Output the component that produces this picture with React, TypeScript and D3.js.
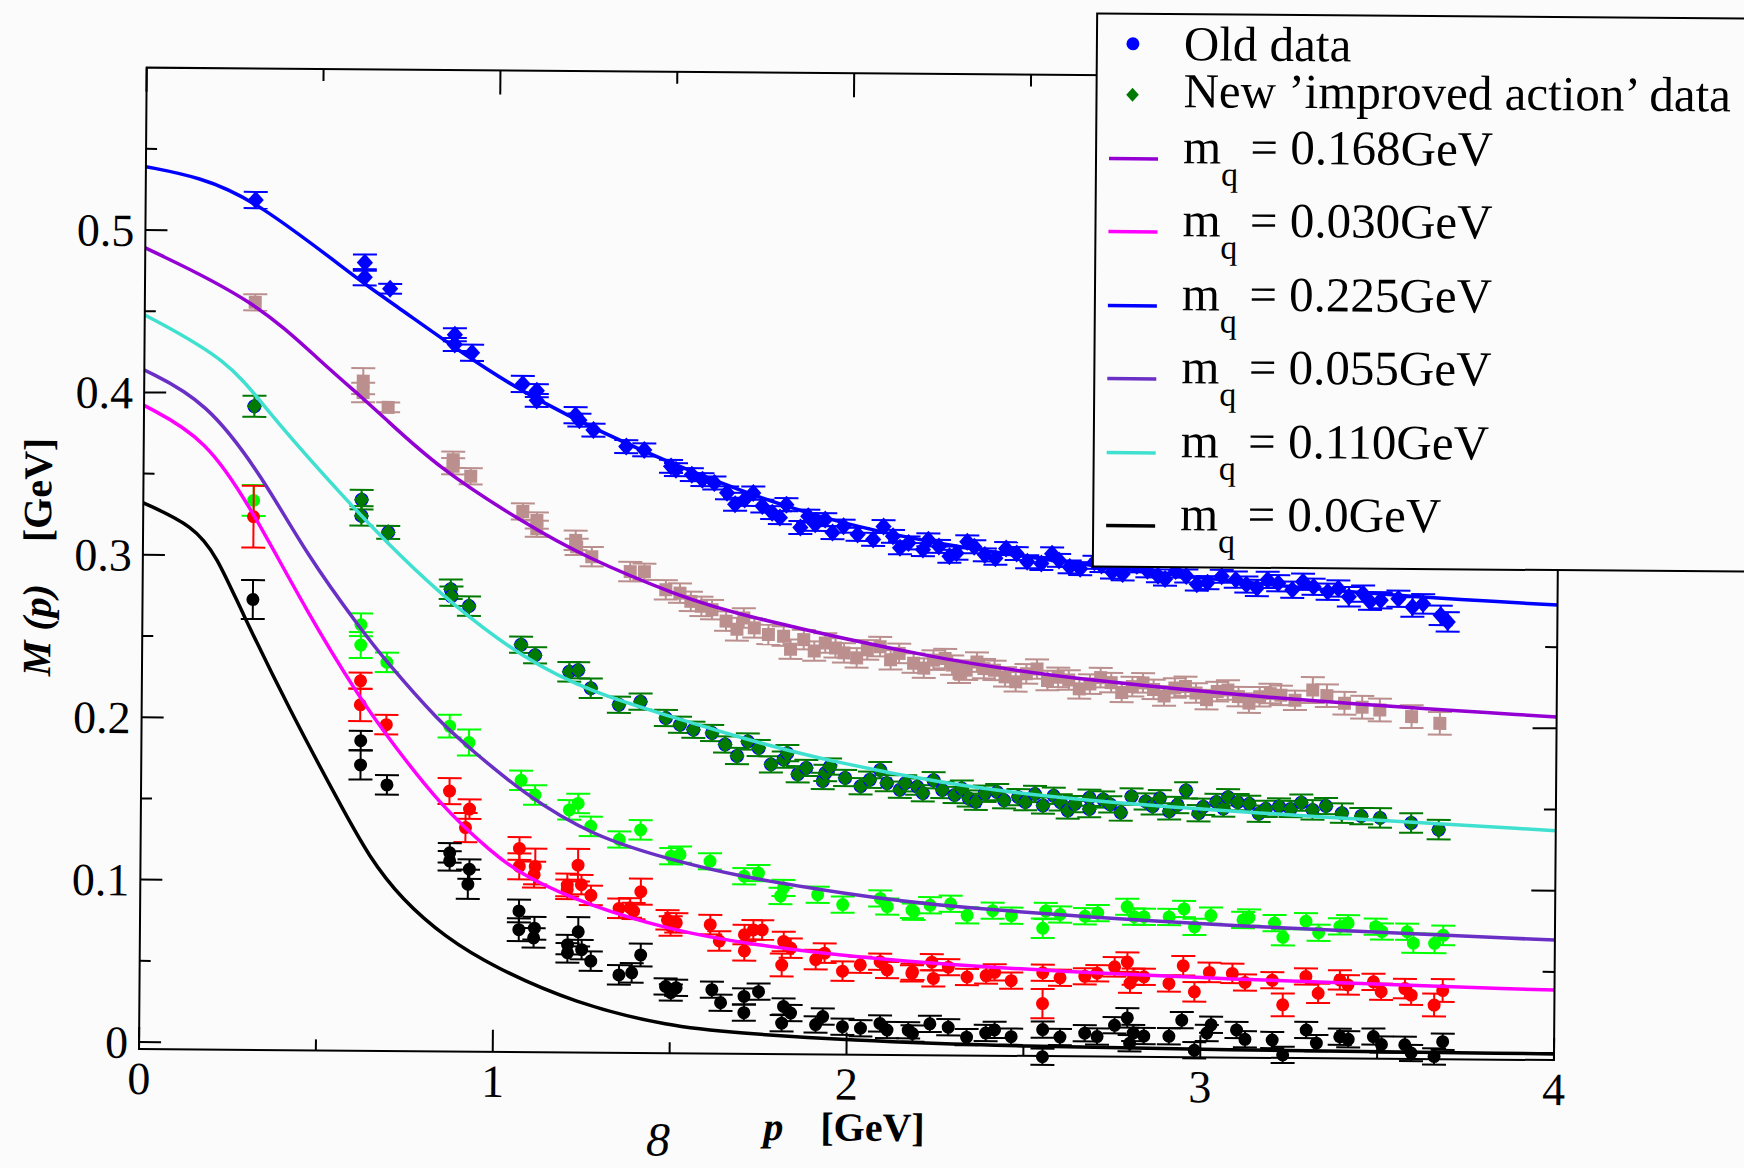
import * as d3 from 'd3'

const W = 1744
const H = 1168

const pTicks = [0, 1, 2, 3, 4]
const pMinor = [0.5, 1.5, 2.5, 3.5]
const mTicks = [0, 0.1, 0.2, 0.3, 0.4, 0.5]
const mMinor = [0.05, 0.15, 0.25, 0.35, 0.45, 0.55]

type Pt = [number, number, number] // p, M, error

// m_q = 0.225 (blue diamonds)
const data225: Pt[] = [
  [0.311, 0.519, 0.005], [0.621, 0.481, 0.005], [0.621, 0.472, 0.005], [0.693, 0.465, 0.003],
  [0.877, 0.437, 0.004], [0.877, 0.431, 0.004], [0.926, 0.426, 0.005],
  [1.07, 0.407, 0.005], [1.11, 0.403, 0.004], [1.11, 0.397, 0.004],
  [1.22, 0.388, 0.005], [1.231, 0.385, 0.004], [1.271, 0.379, 0.004],
  [1.364, 0.369, 0.004], [1.415, 0.367, 0.004], [1.491, 0.357, 0.004], [1.505, 0.355, 0.004],
  [1.55, 0.352, 0.004], [1.58, 0.349, 0.004], [1.614, 0.347, 0.004], [1.65, 0.341, 0.004],
  [1.673, 0.334, 0.004], [1.7, 0.337, 0.004], [1.724, 0.341, 0.004], [1.75, 0.333, 0.004],
  [1.778, 0.329, 0.004], [1.8, 0.326, 0.004], [1.818, 0.334, 0.004], [1.858, 0.32, 0.004],
  [1.88, 0.327, 0.004], [1.9, 0.322, 0.004], [1.928, 0.325, 0.004], [1.949, 0.317, 0.004],
  [1.98, 0.321, 0.004], [2.02, 0.316, 0.004], [2.064, 0.313, 0.004], [2.093, 0.321, 0.004],
  [2.12, 0.315, 0.004], [2.14, 0.308, 0.004], [2.164, 0.311, 0.004], [2.205, 0.307, 0.004],
  [2.22, 0.313, 0.004], [2.25, 0.309, 0.004], [2.28, 0.303, 0.004], [2.3, 0.305, 0.004],
  [2.33, 0.312, 0.004], [2.35, 0.309, 0.004], [2.38, 0.304, 0.004], [2.41, 0.302, 0.004],
  [2.44, 0.308, 0.004], [2.47, 0.305, 0.004], [2.5, 0.3, 0.004], [2.54, 0.299, 0.004],
  [2.57, 0.305, 0.004], [2.59, 0.301, 0.004], [2.62, 0.297, 0.004], [2.65, 0.296, 0.004],
  [2.69, 0.3, 0.004], [2.71, 0.298, 0.004], [2.74, 0.294, 0.004], [2.77, 0.293, 0.004],
  [2.81, 0.298, 0.004], [2.84, 0.295, 0.004], [2.87, 0.292, 0.004], [2.89, 0.29, 0.004],
  [2.92, 0.295, 0.004], [2.95, 0.292, 0.004], [2.98, 0.287, 0.004], [3.01, 0.288, 0.004],
  [3.05, 0.292, 0.004], [3.09, 0.29, 0.005], [3.12, 0.287, 0.005], [3.15, 0.285, 0.005],
  [3.18, 0.29, 0.005], [3.21, 0.288, 0.005], [3.25, 0.284, 0.005], [3.28, 0.289, 0.005],
  [3.31, 0.286, 0.005], [3.35, 0.283, 0.005], [3.38, 0.285, 0.005], [3.41, 0.28, 0.006],
  [3.45, 0.282, 0.005], [3.47, 0.277, 0.005], [3.5, 0.278, 0.005], [3.55, 0.279, 0.005],
  [3.59, 0.274, 0.006], [3.62, 0.276, 0.006], [3.67, 0.269, 0.006], [3.69, 0.265, 0.006],
]

// m_q = 0.168 (rosy brown squares)
const data168: Pt[] = [
  [0.312, 0.456, 0.005], [0.619, 0.408, 0.008], [0.619, 0.401, 0.006], [0.69, 0.392, 0.003],
  [0.875, 0.36, 0.005], [0.875, 0.356, 0.005], [0.925, 0.35, 0.005],
  [1.073, 0.3285, 0.005], [1.113, 0.323, 0.005], [1.113, 0.318, 0.005],
  [1.223, 0.311, 0.006], [1.226, 0.307, 0.005], [1.269, 0.301, 0.006],
  [1.378, 0.292, 0.006], [1.418, 0.292, 0.005], [1.479, 0.281, 0.006], [1.519, 0.279, 0.006],
  [1.55, 0.274, 0.006], [1.58, 0.271, 0.006], [1.61, 0.269, 0.006], [1.65, 0.262, 0.006],
  [1.681, 0.257, 0.007], [1.7, 0.264, 0.006], [1.73, 0.258, 0.006], [1.77, 0.254, 0.006],
  [1.813, 0.253, 0.006], [1.833, 0.245, 0.006], [1.87, 0.251, 0.006], [1.9, 0.244, 0.006],
  [1.931, 0.249, 0.006], [1.96, 0.246, 0.006], [1.984, 0.243, 0.006], [2.02, 0.24, 0.006],
  [2.05, 0.245, 0.006], [2.086, 0.247, 0.006], [2.116, 0.239, 0.006], [2.14, 0.243, 0.006],
  [2.181, 0.237, 0.006], [2.21, 0.234, 0.006], [2.237, 0.239, 0.006], [2.27, 0.24, 0.006],
  [2.29, 0.236, 0.006], [2.31, 0.231, 0.006], [2.33, 0.233, 0.006], [2.36, 0.238, 0.006],
  [2.38, 0.234, 0.006], [2.41, 0.233, 0.006], [2.44, 0.229, 0.006], [2.47, 0.226, 0.006],
  [2.5, 0.231, 0.006], [2.53, 0.234, 0.006], [2.56, 0.227, 0.006], [2.59, 0.229, 0.006],
  [2.62, 0.2274, 0.006], [2.65, 0.222, 0.006], [2.68, 0.225, 0.006], [2.71, 0.229, 0.006],
  [2.74, 0.226, 0.006], [2.77, 0.22, 0.006], [2.8, 0.2236, 0.006], [2.83, 0.226, 0.006],
  [2.86, 0.222, 0.006], [2.89, 0.218, 0.006], [2.92, 0.223, 0.006], [2.95, 0.224, 0.006],
  [2.98, 0.22, 0.006], [3.01, 0.216, 0.006], [3.04, 0.221, 0.006], [3.07, 0.222, 0.006],
  [3.1, 0.218, 0.006], [3.13, 0.214, 0.006], [3.16, 0.218, 0.006], [3.19, 0.22, 0.006],
  [3.22, 0.219, 0.006], [3.26, 0.216, 0.006], [3.31, 0.2224, 0.008], [3.35, 0.219, 0.007],
  [3.4, 0.2144, 0.007], [3.45, 0.212, 0.007], [3.5, 0.2104, 0.007], [3.59, 0.2065, 0.007],
  [3.67, 0.2025, 0.007],
]

// m_q = 0.110 (old blue circles under new dark green points)
const data110: Pt[] = [
  [0.312, 0.392, 0.0065], [0.617, 0.335, 0.006], [0.617, 0.325, 0.006], [0.693, 0.315, 0.004],
  [0.871, 0.2803, 0.006], [0.873, 0.276, 0.006], [0.923, 0.27, 0.006],
  [1.071, 0.2465, 0.005], [1.111, 0.24, 0.005], [1.208, 0.23, 0.006], [1.233, 0.231, 0.005],
  [1.269, 0.22, 0.006], [1.349, 0.21, 0.005], [1.41, 0.212, 0.005], [1.482, 0.202, 0.005],
  [1.522, 0.198, 0.005], [1.56, 0.195, 0.005], [1.613, 0.193, 0.005], [1.65, 0.186, 0.005],
  [1.684, 0.179, 0.005], [1.714, 0.188, 0.005], [1.745, 0.184, 0.005], [1.78, 0.174, 0.005],
  [1.816, 0.177, 0.005], [1.826, 0.181, 0.005], [1.856, 0.168, 0.005], [1.88, 0.172, 0.005],
  [1.927, 0.164, 0.005], [1.934, 0.169, 0.005], [1.947, 0.173, 0.005], [1.99, 0.166, 0.005],
  [2.034, 0.161, 0.005], [2.06, 0.165, 0.005], [2.089, 0.171, 0.005], [2.108, 0.163, 0.005],
  [2.145, 0.159, 0.005], [2.16, 0.163, 0.005], [2.194, 0.161, 0.005], [2.21, 0.157, 0.005],
  [2.24, 0.165, 0.005], [2.265, 0.159, 0.005], [2.3, 0.156, 0.005], [2.32, 0.16, 0.005],
  [2.34, 0.154, 0.005], [2.36, 0.152, 0.005], [2.385, 0.157, 0.005], [2.42, 0.158, 0.005],
  [2.44, 0.153, 0.005], [2.48, 0.155, 0.005], [2.5, 0.152, 0.005], [2.527, 0.157, 0.005],
  [2.55, 0.15, 0.005], [2.58, 0.156, 0.005], [2.6, 0.152, 0.005], [2.62, 0.147, 0.005],
  [2.64, 0.151, 0.005], [2.681, 0.148, 0.005], [2.681, 0.155, 0.005], [2.72, 0.154, 0.005],
  [2.74, 0.151, 0.005], [2.77, 0.146, 0.005], [2.8, 0.156, 0.005], [2.84, 0.153, 0.005],
  [2.86, 0.15, 0.005], [2.88, 0.155, 0.005], [2.907, 0.147, 0.005], [2.93, 0.151, 0.005],
  [2.954, 0.16, 0.005], [2.99, 0.146, 0.005], [3.003, 0.15, 0.005], [3.04, 0.153, 0.005],
  [3.06, 0.149, 0.005], [3.073, 0.156, 0.005], [3.1, 0.153, 0.005], [3.133, 0.152, 0.005],
  [3.16, 0.146, 0.005], [3.18, 0.149, 0.005], [3.217, 0.1505, 0.005], [3.25, 0.149, 0.005],
  [3.28, 0.153, 0.005], [3.312, 0.1486, 0.006], [3.35, 0.151, 0.005], [3.395, 0.1467, 0.006],
  [3.45, 0.145, 0.005], [3.503, 0.144, 0.006], [3.591, 0.141, 0.006], [3.669, 0.137, 0.006],
]

// m_q = 0.055 (bright green circles)
const data055: Pt[] = [
  [0.312, 0.334, 0.0095], [0.618, 0.258, 0.007], [0.618, 0.2455, 0.008], [0.692, 0.235, 0.006],
  [0.871, 0.196, 0.007], [0.926, 0.186, 0.008], [1.074, 0.163, 0.006], [1.114, 0.154, 0.006],
  [1.211, 0.145, 0.006], [1.236, 0.149, 0.006], [1.272, 0.135, 0.006], [1.353, 0.127, 0.005],
  [1.413, 0.133, 0.006], [1.5, 0.117, 0.005], [1.525, 0.118, 0.005], [1.61, 0.114, 0.005],
  [1.707, 0.105, 0.005], [1.747, 0.107, 0.005], [1.81, 0.093, 0.005], [1.818, 0.098, 0.005],
  [1.915, 0.094, 0.005], [1.986, 0.088, 0.005], [2.092, 0.092, 0.005], [2.112, 0.087, 0.005],
  [2.182, 0.085, 0.005], [2.187, 0.084, 0.005], [2.233, 0.088, 0.005], [2.291, 0.089, 0.005],
  [2.338, 0.082, 0.005], [2.41, 0.085, 0.005], [2.463, 0.082, 0.005], [2.552, 0.0744, 0.006],
  [2.56, 0.085, 0.005], [2.601, 0.083, 0.005], [2.671, 0.082, 0.005], [2.707, 0.084, 0.005],
  [2.79, 0.088, 0.005], [2.81, 0.082, 0.005], [2.838, 0.082, 0.005], [2.909, 0.082, 0.005],
  [2.951, 0.087, 0.005], [2.981, 0.076, 0.005], [3.027, 0.083, 0.005], [3.118, 0.0805, 0.005],
  [3.135, 0.082, 0.005], [3.207, 0.0787, 0.005], [3.231, 0.07, 0.005], [3.296, 0.08, 0.005],
  [3.332, 0.073, 0.005], [3.392, 0.077, 0.005], [3.415, 0.079, 0.005], [3.493, 0.077, 0.005],
  [3.511, 0.074, 0.005], [3.582, 0.074, 0.005], [3.6, 0.067, 0.006], [3.66, 0.067, 0.006],
  [3.684, 0.072, 0.006],
]

// m_q = 0.030 (red circles)
const data030: Pt[] = [
  [0.312, 0.324, 0.019], [0.618, 0.2235, 0.005], [0.618, 0.2087, 0.01], [0.692, 0.1966, 0.006],
  [0.872, 0.156, 0.008], [0.918, 0.1336, 0.009], [0.929, 0.145, 0.006],
  [1.071, 0.121, 0.007], [1.071, 0.11, 0.008], [1.113, 0.105, 0.008], [1.116, 0.11, 0.011],
  [1.207, 0.0987, 0.007], [1.207, 0.096, 0.006], [1.237, 0.111, 0.01], [1.247, 0.099, 0.006],
  [1.274, 0.0925, 0.006], [1.354, 0.0846, 0.006], [1.385, 0.085, 0.006], [1.395, 0.083, 0.005],
  [1.415, 0.095, 0.008], [1.491, 0.0777, 0.006], [1.5, 0.074, 0.006], [1.516, 0.076, 0.006],
  [1.612, 0.075, 0.006], [1.638, 0.065, 0.006], [1.709, 0.069, 0.006], [1.709, 0.059, 0.006],
  [1.734, 0.072, 0.006], [1.759, 0.072, 0.006], [1.815, 0.0505, 0.007], [1.82, 0.065, 0.006],
  [1.84, 0.061, 0.006], [1.911, 0.054, 0.006], [1.936, 0.058, 0.006], [1.987, 0.047, 0.006],
  [2.037, 0.051, 0.005], [2.093, 0.053, 0.005], [2.113, 0.048, 0.005], [2.183, 0.046, 0.005],
  [2.185, 0.047, 0.005], [2.239, 0.053, 0.005], [2.244, 0.043, 0.005], [2.286, 0.05, 0.005],
  [2.339, 0.044, 0.005], [2.393, 0.045, 0.005], [2.417, 0.047, 0.005], [2.464, 0.042, 0.005],
  [2.553, 0.047, 0.005], [2.553, 0.028, 0.009], [2.602, 0.044, 0.005], [2.672, 0.045, 0.005],
  [2.707, 0.047, 0.005], [2.756, 0.051, 0.006], [2.792, 0.054, 0.006], [2.8, 0.041, 0.006],
  [2.81, 0.045, 0.005], [2.839, 0.045, 0.005], [2.91, 0.041, 0.005], [2.95, 0.052, 0.006],
  [2.982, 0.036, 0.006], [3.024, 0.048, 0.006], [3.089, 0.0475, 0.006], [3.125, 0.042, 0.005],
  [3.202, 0.0435, 0.005], [3.232, 0.0284, 0.007], [3.297, 0.046, 0.005], [3.332, 0.0357, 0.006],
  [3.393, 0.044, 0.006], [3.416, 0.041, 0.006], [3.488, 0.043, 0.005], [3.51, 0.037, 0.005],
  [3.577, 0.039, 0.006], [3.595, 0.035, 0.006], [3.66, 0.029, 0.007], [3.684, 0.038, 0.007],
]

// m_q = 0.0 (black circles)
const data000: Pt[] = [
  [0.312, 0.273, 0.012], [0.62, 0.1866, 0.006], [0.62, 0.1717, 0.009], [0.695, 0.1595, 0.006],
  [0.874, 0.118, 0.006], [0.874, 0.113, 0.006], [0.926, 0.0987, 0.009], [0.93, 0.108, 0.006],
  [1.071, 0.0825, 0.007], [1.071, 0.071, 0.007], [1.113, 0.066, 0.006], [1.115, 0.072, 0.007],
  [1.209, 0.062, 0.006], [1.209, 0.057, 0.006], [1.239, 0.07, 0.009], [1.249, 0.059, 0.006],
  [1.275, 0.052, 0.006], [1.355, 0.0436, 0.006], [1.391, 0.045, 0.006], [1.416, 0.056, 0.007],
  [1.487, 0.0367, 0.005], [1.502, 0.033, 0.005], [1.517, 0.036, 0.005], [1.618, 0.035, 0.005],
  [1.643, 0.027, 0.005], [1.709, 0.031, 0.005], [1.709, 0.021, 0.005], [1.75, 0.034, 0.005],
  [1.816, 0.0147, 0.005], [1.821, 0.025, 0.005], [1.841, 0.021, 0.005], [1.912, 0.014, 0.005],
  [1.932, 0.019, 0.005], [1.988, 0.0128, 0.005], [2.039, 0.012, 0.005], [2.094, 0.015, 0.005],
  [2.114, 0.011, 0.005], [2.174, 0.011, 0.005], [2.186, 0.009, 0.005], [2.235, 0.015, 0.005],
  [2.287, 0.013, 0.005], [2.339, 0.007, 0.005], [2.393, 0.0096, 0.005], [2.418, 0.0116, 0.005],
  [2.465, 0.0075, 0.005], [2.554, 0.012, 0.005], [2.554, -0.0047, 0.005], [2.603, 0.0075, 0.005],
  [2.673, 0.01, 0.005], [2.708, 0.008, 0.005], [2.757, 0.015, 0.005], [2.793, 0.0196, 0.006],
  [2.8, 0.004, 0.005], [2.81, 0.0103, 0.005], [2.84, 0.0085, 0.005], [2.911, 0.0085, 0.005],
  [2.947, 0.0185, 0.005], [2.983, 0.0, 0.005], [3.018, 0.0107, 0.005], [3.03, 0.0158, 0.005],
  [3.102, 0.0127, 0.005], [3.126, 0.007, 0.005], [3.203, 0.0067, 0.005], [3.233, -0.0024, 0.005],
  [3.299, 0.013, 0.005], [3.328, 0.005, 0.005], [3.394, 0.009, 0.005], [3.418, 0.0075, 0.005],
  [3.489, 0.0093, 0.005], [3.512, 0.0045, 0.005], [3.578, 0.0044, 0.005], [3.596, -0.0006, 0.005],
  [3.661, -0.0027, 0.005], [3.685, 0.0065, 0.005],
]

// fit curves
const fit225: [number, number][] = [
  [0, 0.539], [0.15, 0.533], [0.311, 0.519], [0.618, 0.468], [0.694, 0.457], [0.89, 0.427],
  [1.086, 0.399], [1.476, 0.359], [1.881, 0.327], [2.254, 0.309], [2.99, 0.29], [3.59, 0.28], [4, 0.276],
]
const fit168: [number, number][] = [
  [0, 0.489], [0.314, 0.457], [0.497, 0.42], [0.621, 0.397], [0.667, 0.388], [0.838, 0.354],
  [1.073, 0.322], [1.246, 0.301], [1.519, 0.277], [1.68, 0.266], [2.256, 0.239], [2.652, 0.2275],
  [3.312, 0.215], [4, 0.207],
]
const fit110: [number, number][] = [
  [0, 0.4477], [0.242, 0.42], [0.347, 0.389], [0.593, 0.33], [0.73, 0.3], [0.87, 0.272],
  [1.076, 0.238], [1.278, 0.217], [1.48, 0.204], [1.683, 0.191], [1.887, 0.179], [2.259, 0.163],
  [2.654, 0.153], [3.315, 0.1444], [4, 0.137],
]
const fit055: [number, number][] = [
  [0, 0.4138], [0.177, 0.395], [0.338, 0.348], [0.463, 0.301], [0.616, 0.2557], [0.692, 0.235],
  [0.844, 0.198], [0.926, 0.183], [1.079, 0.155], [1.281, 0.1286], [1.496, 0.115], [1.686, 0.105],
  [1.987, 0.095], [2.262, 0.087], [3.097, 0.0763], [4, 0.0696],
]
const fit030: [number, number][] = [
  [0, 0.392], [0.177, 0.372], [0.311, 0.327], [0.464, 0.266], [0.617, 0.2126], [0.693, 0.19],
  [0.846, 0.147], [0.996, 0.118], [1.081, 0.104], [1.283, 0.085], [1.497, 0.072], [1.688, 0.064],
  [2.148, 0.052], [3.098, 0.0435], [4, 0.0388],
]
const fit000: [number, number][] = [
  [0, 0.332], [0.144, 0.318], [0.21, 0.299], [0.275, 0.268], [0.42, 0.2044], [0.564, 0.147],
  [0.646, 0.115], [0.74, 0.089], [0.863, 0.066], [1.0, 0.048], [1.23, 0.026], [1.5, 0.012],
  [1.69, 0.0085], [1.99, 0.0046], [2.5, 0.0015], [3.0, 0.0005], [4, -0.0005],
]

const fitMasses = ['0.168', '0.030', '0.225', '0.055', '0.110', '0.0']
const fitColors = ['#9400d3', '#ff00ff', '#0000ff', '#6a2fc4', '#40e0d0', '#000000']
const fitCurves = [fit168, fit030, fit225, fit055, fit110, fit000]

const FONT = "'Liberation Serif', 'DejaVu Serif', serif"

function ErrBar({ cx, y0, y1, color }: { cx: number; y0: number; y1: number; color: string }) {
  return (
    <g stroke={color} strokeWidth={2}>
      <line x1={cx} x2={cx} y1={y0} y2={y1} />
      <line x1={cx - 12} x2={cx + 12} y1={y0} y2={y0} />
      <line x1={cx - 12} x2={cx + 12} y1={y1} y2={y1} />
    </g>
  )
}

export default function App() {
  const x = d3.scaleLinear().domain([0, 4]).range([139, 1554])
  const y = d3.scaleLinear().domain([0, 0.5]).range([1042, 230])
  const top = y(0.6)
  const bottom = y(-0.0043)
  const left = x(0)
  const right = x(4)

  const line = d3
    .line<[number, number]>()
    .x((d) => x(d[0]))
    .y((d) => y(d[1]))
    .curve(d3.curveBasis)

  const diamond = (r: number) => `M0,${-r}L${r * 0.9},0L0,${r}L${-r * 0.9},0Z`

  const series = (pts: Pt[], color: string, marker: (cx: number, cy: number, i: number) => JSX.Element, key: string) => (
    <g key={key}>
      {pts.map((d, i) => (
        <g key={i}>
          <ErrBar cx={x(d[0])} y0={y(d[1] - d[2])} y1={y(d[1] + d[2])} color={color} />
          {marker(x(d[0]), y(d[1]), i)}
        </g>
      ))}
    </g>
  )

  const legendBase = [155, 228, 302, 375, 449, 522]

  return (
    <svg
      width={W}
      height={H}
      style={{ position: 'absolute', left: 0, top: 0, background: '#fbfbfb' }}
      fontFamily={FONT}
    >
      <rect width={W} height={H} fill="#fbfbfb" />
      <g transform="rotate(0.45 139 1049)">
        {/* data */}
        {series(data225, '#0000ff', (cx, cy, i) => (
          <path key={i} d={diamond(9)} transform={`translate(${cx},${cy})`} fill="#0000ff" />
        ), 's225')}
        {series(data168, '#bc8f8f', (cx, cy, i) => (
          <rect key={i} x={cx - 6.5} y={cy - 6.5} width={13} height={13} fill="#bc8f8f" />
        ), 's168')}
        {series(data110, '#007a00', (cx, cy, i) => (
          <g key={i}>
            <circle cx={cx} cy={cy} r={7} fill="#0000ff" />
            <path d={diamond(8.5)} transform={`translate(${cx},${cy})`} fill="#007a00" />
            <circle cx={cx} cy={cy} r={5} fill="#007a00" />
          </g>
        ), 's110')}
        {series(data055, '#00ff00', (cx, cy, i) => (
          <circle key={i} cx={cx} cy={cy} r={6.5} fill="#00ff00" />
        ), 's055')}
        {series(data030, '#ff0000', (cx, cy, i) => (
          <circle key={i} cx={cx} cy={cy} r={6.5} fill="#ff0000" />
        ), 's030')}
        {series(data000, '#000000', (cx, cy, i) => (
          <circle key={i} cx={cx} cy={cy} r={6.5} fill="#000000" />
        ), 's000')}

        {/* fits */}
        {fitCurves.map((c, i) => (
          <path key={i} d={line(c) ?? ''} fill="none" stroke={fitColors[i]} strokeWidth={3.5} />
        ))}

        {/* frame */}
        <rect x={left} y={top} width={right - left} height={bottom - top} fill="none" stroke="#000" strokeWidth={2} />
        <g stroke="#000" strokeWidth={2}>
          {pTicks.map((t) => (
            <g key={'px' + t}>
              <line x1={x(t)} x2={x(t)} y1={bottom} y2={bottom - 22} />
              <line x1={x(t)} x2={x(t)} y1={top} y2={top + 24} />
            </g>
          ))}
          {pMinor.map((t) => (
            <g key={'pm' + t}>
              <line x1={x(t)} x2={x(t)} y1={bottom} y2={bottom - 11} />
              <line x1={x(t)} x2={x(t)} y1={top} y2={top + 12} />
            </g>
          ))}
          {mTicks.map((t) => (
            <g key={'my' + t}>
              <line x1={left} x2={left + 22} y1={y(t)} y2={y(t)} />
              <line x1={right} x2={right - 24} y1={y(t)} y2={y(t)} />
            </g>
          ))}
          {mMinor.map((t) => (
            <g key={'mm' + t}>
              <line x1={left} x2={left + 11} y1={y(t)} y2={y(t)} />
              <line x1={right} x2={right - 12} y1={y(t)} y2={y(t)} />
            </g>
          ))}
        </g>
        {pTicks.map((t) => (
          <text key={'pl' + t} x={x(t)} y={1094} fontSize={46} textAnchor="middle" fill="#000">
            {t}
          </text>
        ))}
        {mTicks.map((t) => (
          <text key={'ml' + t} x={128} y={y(t) + 16} fontSize={46} textAnchor="end" fill="#000">
            {t === 0 ? '0' : t.toFixed(1)}
          </text>
        ))}

        {/* axis titles */}
        <text y={1135} fontSize={40} fontWeight="bold" fill="#000">
          <tspan x={764} fontStyle="italic">p</tspan>
          <tspan x={821}>[GeV]</tspan>
        </text>
        <g transform="translate(47,0) rotate(-90)">
          <text fontSize={40} fontWeight="bold" fill="#000">
            <tspan x={-677} fontStyle="italic">M (p)</tspan>
            <tspan x={-543}>[GeV]</tspan>
          </text>
        </g>

        {/* legend */}
        <rect x={1089} y={6} width={700} height={553} fill="#fbfbfb" stroke="#000" strokeWidth={2} />
        <circle cx={1125} cy={36} r={6.5} fill="#0000ff" />
        <text x={1176} y={52} fontSize={49} fill="#000">Old data</text>
        <path d={diamond(7)} transform="translate(1125,87)" fill="#007a00" />
        <text x={1176} y={99} fontSize={49} fill="#000">New ’improved action’ data</text>
        {fitMasses.map((m, i) => (
          <g key={'lg' + m}>
            <line x1={1102} x2={1151} y1={legendBase[i] - 4} y2={legendBase[i] - 4} stroke={fitColors[i]} strokeWidth={3.5} />
            <text x={1176} y={legendBase[i]} fontSize={49} fill="#000">
              m
              <tspan fontSize={34} dy={22}>q</tspan>
              <tspan dy={-22}>{` = ${m}GeV`}</tspan>
            </text>
          </g>
        ))}
      </g>
      <text x={646} y={1156} fontSize={48} fontStyle="italic" fill="#000">8</text>
    </svg>
  )
}
